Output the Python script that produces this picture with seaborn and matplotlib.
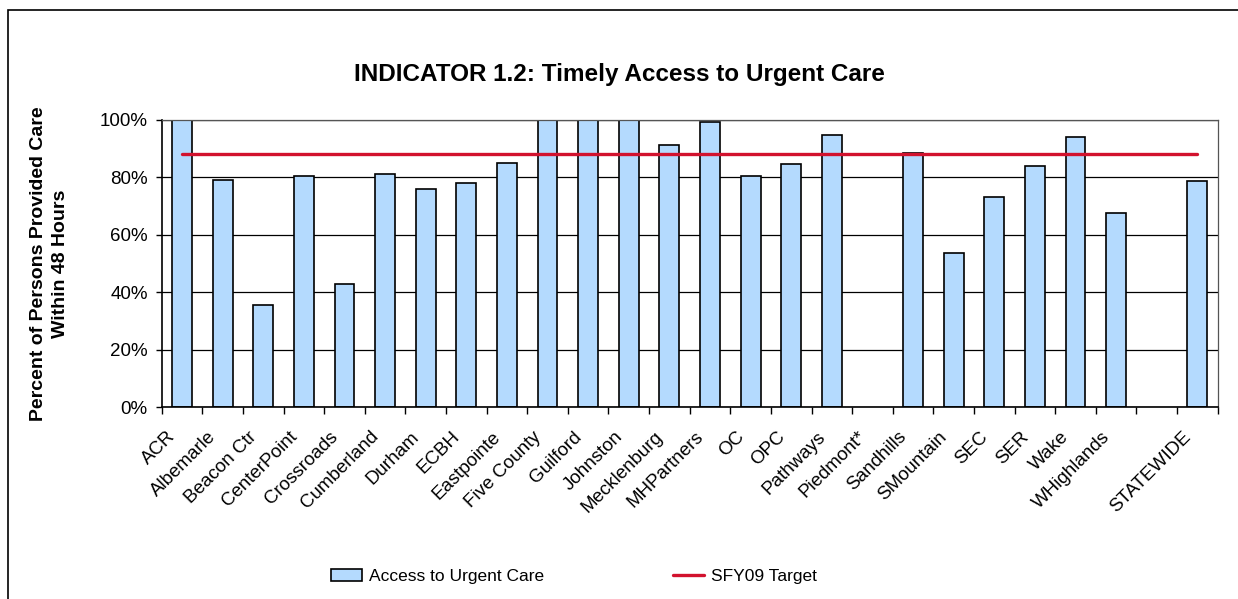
import numpy as np
import pandas as pd
import matplotlib.pyplot as plt
import matplotlib.ticker as mtick
import matplotlib.transforms as mtrans
from matplotlib.patches import Rectangle, Patch
from matplotlib.lines import Line2D
import seaborn as sns

# --- datos ---
programas = ["ACR", "Albemarle", "Beacon Ctr", "CenterPoint", "Crossroads", "Cumberland",
             "Durham", "ECBH", "Eastpointe", "Five County", "Guilford", "Johnston",
             "Mecklenburg", "MHPartners", "OC", "OPC", "Pathways", "Piedmont*",
             "Sandhills", "SMountain", "SEC", "SER", "Wake", "WHighlands", " ", "STATEWIDE"]
acceso = [100, 79.0, 35.7, 80.6, 42.7, 81.2, 75.9, 78.1, 85.0, 100, 100, 100,
          91.4, 99.4, 80.6, 84.6, 94.7, np.nan, 88.6, 53.8, 73.2, 83.9, 94.2, 67.7,
          np.nan, 78.7]
meta = [88.3] * len(programas)

df = pd.DataFrame({"programa": programas, "acceso": acceso, "meta": meta})

sns.set_style("white")
plt.rcParams["font.family"] = ["Liberation Sans", "DejaVu Sans"]
plt.rcParams["text.color"] = "black"
plt.rcParams["axes.labelcolor"] = "black"
plt.rcParams["xtick.color"] = "black"
plt.rcParams["ytick.color"] = "black"

azul = "#B4DAFE"
rojo = "#D2122E"

fig = plt.figure(figsize=(12.38, 5.99), dpi=100)
ax = fig.add_axes([0.1306, 0.3205, 0.8530, 0.4792])

sns.barplot(data=df, x="programa", y="acceso", order=programas, color=azul,
            edgecolor="black", linewidth=1.2, width=0.49, saturation=1, ax=ax)
sns.pointplot(data=df, x="programa", y="meta", order=programas, color=rojo,
              markersize=0, linewidth=2.4, errorbar=None, ax=ax)

# --- ejes ---
ax.set_xlim(-0.5, len(programas) - 0.5)
ax.set_ylim(0, 100)
ax.set_yticks(np.arange(0, 101, 20))
ax.yaxis.set_major_formatter(mtick.PercentFormatter(decimals=0))
ax.grid(axis="y", color="black", linewidth=0.9)
ax.set_axisbelow(True)
for lado in ["top", "right"]:
    ax.spines[lado].set_color("#555555")
    ax.spines[lado].set_linewidth(0.9)
for lado in ["left", "bottom"]:
    ax.spines[lado].set_color("black")
    ax.spines[lado].set_linewidth(1.2)

ax.tick_params(axis="y", which="major", direction="out", length=4, width=1,
               labelsize=13.5, pad=6, left=True)
ax.set_xticks(np.arange(len(programas)))
ax.set_xticks(np.arange(-0.5, len(programas), 1), minor=True)
ax.tick_params(axis="x", which="major", length=0, pad=8)
ax.tick_params(axis="x", which="minor", direction="out", length=5, width=1, bottom=True)
ax.set_xticklabels(programas, rotation=45, ha="right", va="top",
                   rotation_mode="anchor", fontsize=13.5)
desplazar = mtrans.ScaledTranslation(-15 / 100, -10 / 100, fig.dpi_scale_trans)
for etiqueta in ax.get_xticklabels():
    etiqueta.set_transform(etiqueta.get_transform() + desplazar)
ax.set_xlabel("")
ax.set_ylabel("Percent of Persons Provided Care\nWithin 48 Hours", fontsize=14,
              fontweight="bold", linespacing=1.4)
ax.yaxis.set_label_coords(-0.088, 0.5)

fig.text(0.5, 0.875, "INDICATOR 1.2: Timely Access to Urgent Care", ha="center",
         va="center", fontsize=17.5, fontweight="bold")

manejadores = [Patch(facecolor=azul, edgecolor="black", linewidth=1.2),
               Line2D([0], [0], color=rojo, linewidth=2.4)]
fig.legend(manejadores, ["Access to Urgent Care", "SFY09 Target"], loc="center",
           bbox_to_anchor=(0.4637, 0.037), ncol=2, frameon=False, fontsize=12.5,
           handlelength=1.8, handleheight=0.7, handletextpad=0.4, columnspacing=7.4)

# marco exterior
fig.add_artist(Rectangle((8 / 1238, -0.5), 2, 1.5 - 10 / 599, transform=fig.transFigure,
                         fill=False, edgecolor="black", linewidth=1.2))

fig.savefig("out.png", dpi=100)
